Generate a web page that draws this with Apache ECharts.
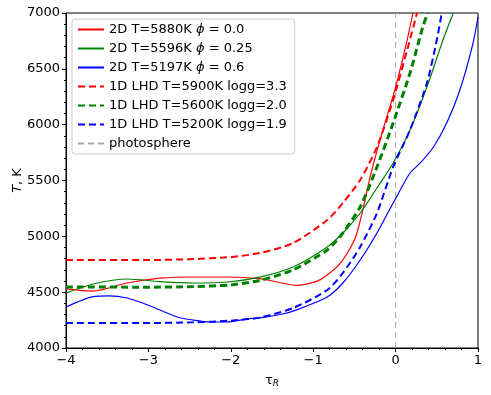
<!DOCTYPE html>
<html>
<head>
<meta charset="utf-8">
<script src="https://cdn.jsdelivr.net/npm/echarts@6/dist/echarts.min.js"></script>
<style>
  html, body { margin: 0; padding: 0; background: #fff; }
  #chart { width: 491px; height: 395px; }
</style>
</head>
<body>
<div id="chart"></div>
<script>
// 2D models (solid)
const tauRed2D = [-4, -3.67, -3.26, -2.86, -2.46, -2.05, -1.65, -1.44, -1.2, -0.92, -0.67, -0.49, -0.39, -0.31, -0.165, 0.0, 0.14, 0.21];
const tRed2D   = [4530, 4510, 4582, 4625, 4636, 4636, 4622, 4591, 4560, 4610, 4761, 4985, 5263, 5531, 5925, 6337, 6758, 7000];

const tauGreen2D = [-4, -3.67, -3.26, -2.86, -2.46, -2.05, -1.65, -1.245, -0.83, -0.64, -0.43, -0.226, -0.03, 0.175, 0.38, 0.575, 0.70];
const tGreen2D   = [4493, 4573, 4618, 4595, 4582, 4591, 4635, 4725, 4905, 5030, 5209, 5433, 5657, 5952, 6337, 6758, 7000];

const tauBlue2D = [-4, -3.67, -3.47, -3.26, -3.07, -2.86, -2.65, -2.46, -2.25, -2.05, -1.8, -1.65, -1.4, -1.245, -0.83, -0.64, -0.43, -0.226, -0.03, 0.175, 0.30, 0.46, 0.62, 0.78, 0.94, 1.0];
const tBlue2D   = [4367, 4460, 4466, 4448, 4403, 4340, 4278, 4251, 4233, 4233, 4260, 4270, 4300, 4330, 4457, 4582, 4788, 5030, 5298, 5567, 5657, 5800, 6015, 6310, 6731, 6964];

// 1D LHD models (dashed)
const tauRed1D = [-4, -3, -2.5, -2, -1.646, -1.245, -0.83, -0.64, -0.43, -0.226, -0.03, 0.14, 0.26];
const tRed1D   = [4788, 4788, 4795, 4815, 4851, 4940, 5146, 5299, 5505, 5800, 6221, 6669, 7000];

const tauGreen1D = [-4, -3, -2.46, -2, -1.65, -1.245, -0.83, -0.64, -0.43, -0.226, -0.03, 0.175, 0.33, 0.39];
const tGreen1D   = [4546, 4545, 4550, 4565, 4605, 4699, 4878, 5030, 5263, 5621, 6015, 6463, 6875, 7000];

const tauBlue1D = [-4, -3, -2.46, -2, -1.65, -1.245, -0.83, -0.64, -0.43, -0.226, -0.03, 0.175, 0.38, 0.50, 0.56];
const tBlue1D   = [4224, 4224, 4230, 4245, 4272, 4358, 4519, 4672, 4905, 5209, 5621, 5952, 6373, 6758, 7000];

const tauPhotosphere = [0, 0];
const tPhotosphere = [4000, 7000];

const names = [
  '2D T=5880K ϕ = 0.0',
  '2D T=5596K ϕ = 0.25',
  '2D T=5197K ϕ = 0.6',
  '1D LHD T=5900K logg=3.3',
  '1D LHD T=5600K logg=2.0',
  '1D LHD T=5200K logg=1.9',
  'photosphere'
];

const zip = (xs, ys) => xs.map((x, i) => [x, ys[i]]);
const fmtMinus = v => (v < 0 ? '\u2212' + Math.abs(v) : String(v));

function line(name, xs, ys, color, width, dash) {
  return {
    name: name,
    type: 'line',
    data: zip(xs, ys),
    symbol: 'none',
    smooth: 0.25,
    clip: true,
    lineStyle: { color: color, width: width, type: dash || 'solid' },
    itemStyle: { color: color },
    emphasis: { disabled: true }
  };
}

const chart = echarts.init(document.getElementById('chart'));
chart.setOption({
  animation: false,
  grid: {
    left: 66, right: 13, top: 13, bottom: 47,
    outerBoundsMode: 'none', containLabel: false,
    show: true, borderColor: '#000', borderWidth: 1
  },
  legend: {
    orient: 'vertical',
    left: 72, top: 19,
    itemWidth: 26, itemHeight: 12, itemGap: 6,
    padding: [4, 8, 4, 5],
    backgroundColor: 'rgba(255,255,255,0.85)',
    borderColor: '#ccc', borderWidth: 1, borderRadius: 3,
    itemStyle: { opacity: 0 },
    data: names,
    formatter: n => n.replace('ϕ', '{i|ϕ}'),
    textStyle: {
      fontFamily: 'DejaVu Sans', fontSize: 13, color: '#000',
      rich: { i: { fontFamily: 'DejaVu Sans', fontStyle: 'italic', fontSize: 13, color: '#000' } }
    }
  },
  xAxis: {
    type: 'value', min: -4, max: 1, interval: 1,
    name: '{t|τ}{s|R}', nameLocation: 'middle', nameGap: 25, nameMoveOverlap: false,
    nameTextStyle: {
      rich: {
        t: { fontFamily: 'DejaVu Sans', fontSize: 13, color: '#000' },
        s: { fontFamily: 'DejaVu Sans', fontStyle: 'italic', fontSize: 9, color: '#000', padding: [6, 0, 0, 0] }
      }
    },
    axisLine: { onZero: false, lineStyle: { color: '#000' } },
    axisTick: { inside: false, length: 4, lineStyle: { color: '#000' } },
    minorTick: { show: true, splitNumber: 5, length: 2, lineStyle: { color: '#000' } },
    splitLine: { show: false },
    axisLabel: { fontFamily: 'DejaVu Sans', fontSize: 13, color: '#000', margin: 6, formatter: fmtMinus }
  },
  yAxis: {
    type: 'value', min: 4000, max: 7000, interval: 500,
    name: '{i|T}, K', nameLocation: 'middle', nameGap: 42, nameRotate: 90, nameMoveOverlap: false,
    nameTextStyle: {
      fontFamily: 'DejaVu Sans', fontSize: 13, color: '#000',
      rich: { i: { fontFamily: 'DejaVu Sans', fontStyle: 'italic', fontSize: 13, color: '#000' } }
    },
    axisLine: { show: true, onZero: false, lineStyle: { color: '#000' } },
    axisTick: { show: true, inside: false, length: 4, lineStyle: { color: '#000' } },
    minorTick: { show: true, splitNumber: 5, length: 2, lineStyle: { color: '#000' } },
    splitLine: { show: false },
    axisLabel: { fontFamily: 'DejaVu Sans', fontSize: 13, color: '#000', margin: 6, formatter: v => String(v) }
  },
  series: [
    line(names[0], tauRed2D, tRed2D, '#ff0000', 1.2),
    line(names[1], tauGreen2D, tGreen2D, '#008000', 1.2),
    line(names[2], tauBlue2D, tBlue2D, '#0000ff', 1.2),
    line(names[3], tauRed1D, tRed1D, '#ff0000', 2, [7, 4]),
    line(names[4], tauGreen1D, tGreen1D, '#008000', 3, [7, 4]),
    line(names[5], tauBlue1D, tBlue1D, '#0000ff', 2, [7, 4]),
    Object.assign(line(names[6], tauPhotosphere, tPhotosphere, '#aaaaaa', 1, [6, 4]), { smooth: false, z: 1 })
  ]
});
</script>
</body>
</html>
